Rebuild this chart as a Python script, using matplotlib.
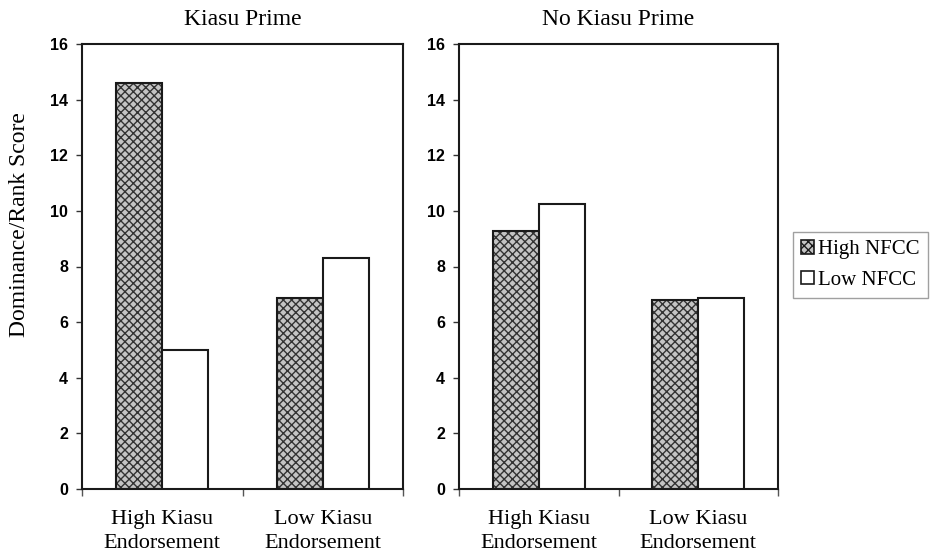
import matplotlib
matplotlib.use("Agg")
import matplotlib.pyplot as plt
import numpy as np
from matplotlib.patches import Patch

# data
categories = ["High Kiasu\nEndorsement", "Low Kiasu\nEndorsement"]
panel_titles = ["Kiasu Prime", "No Kiasu Prime"]
high_nfcc = [[14.6, 6.85], [9.28, 6.8]]
low_nfcc = [[5.0, 8.3], [10.25, 6.87]]
y_ticks = [0, 2, 4, 6, 8, 10, 12, 14, 16]

serif = "Liberation Serif"
sans = "Liberation Sans"
plt.rcParams["hatch.linewidth"] = 1.0

fig = plt.figure(figsize=(9.3, 5.53), dpi=100)
ax_left = fig.add_axes([82 / 930, 1 - 489 / 553, 321 / 930, 445 / 553])
ax_right = fig.add_axes([459 / 930, 1 - 489 / 553, 319 / 930, 445 / 553])

w = 0.2875
x = np.arange(len(categories))

for i, ax in enumerate([ax_left, ax_right]):
    # hatched bars: fill + hatch, then a black outline on top
    ax.bar(x - w / 2, high_nfcc[i], w, facecolor="#c4c4c4", edgecolor="#333333",
           hatch="xxxx", linewidth=0, zorder=2)
    ax.bar(x - w / 2, high_nfcc[i], w, fill=False, edgecolor="#1a1a1a",
           linewidth=1.5, zorder=3)
    ax.bar(x + w / 2, low_nfcc[i], w, facecolor="white", edgecolor="#1a1a1a",
           linewidth=1.5, zorder=3)

    ax.set_xlim(-0.5, 1.5)
    ax.set_ylim(0, 16)
    ax.set_yticks(y_ticks)
    ax.set_yticklabels([str(t) for t in y_ticks], fontfamily=sans,
                       fontweight="bold", fontsize=11.5)
    ax.tick_params(axis="y", direction="out", length=4, width=1, pad=6,
                   color="#333333")

    # category boundary ticks, labels centred on groups
    ax.set_xticks([-0.5, 0.5, 1.5])
    ax.set_xticklabels(["", "", ""])
    ax.tick_params(axis="x", which="major", direction="out", length=5,
                   width=1, color="#555555")
    ax.set_xticks(x, minor=True)
    ax.set_xticklabels(categories, minor=True, fontfamily=serif, fontsize=16,
                       linespacing=1.35)
    ax.tick_params(axis="x", which="minor", length=0, pad=15)

    for s in ax.spines.values():
        s.set_linewidth(1.5)
        s.set_color("#1a1a1a")

    ax.set_title(panel_titles[i], fontfamily=serif, fontsize=17, pad=14)

ax_left.set_ylabel("Dominance/Rank Score", fontfamily=serif, fontsize=17)
ax_left.yaxis.set_label_coords(-52 / 321, (489 - 225) / 445)

handles = [
    Patch(facecolor="#c4c4c4", edgecolor="#1a1a1a", hatch="xxxx", linewidth=1.2),
    Patch(facecolor="white", edgecolor="#1a1a1a", linewidth=1.2),
]
fig.legend(handles, ["High NFCC", "Low NFCC"], loc="center left",
           bbox_to_anchor=(793 / 930, 1 - 265 / 553),
           prop={"family": serif, "size": 15},
           frameon=True, fancybox=False, edgecolor="#888888",
           handlelength=0.6, handleheight=0.6, handletextpad=0.2,
           labelspacing=0.55, borderpad=0.4, borderaxespad=0)

fig.savefig("out.png", dpi=100)
